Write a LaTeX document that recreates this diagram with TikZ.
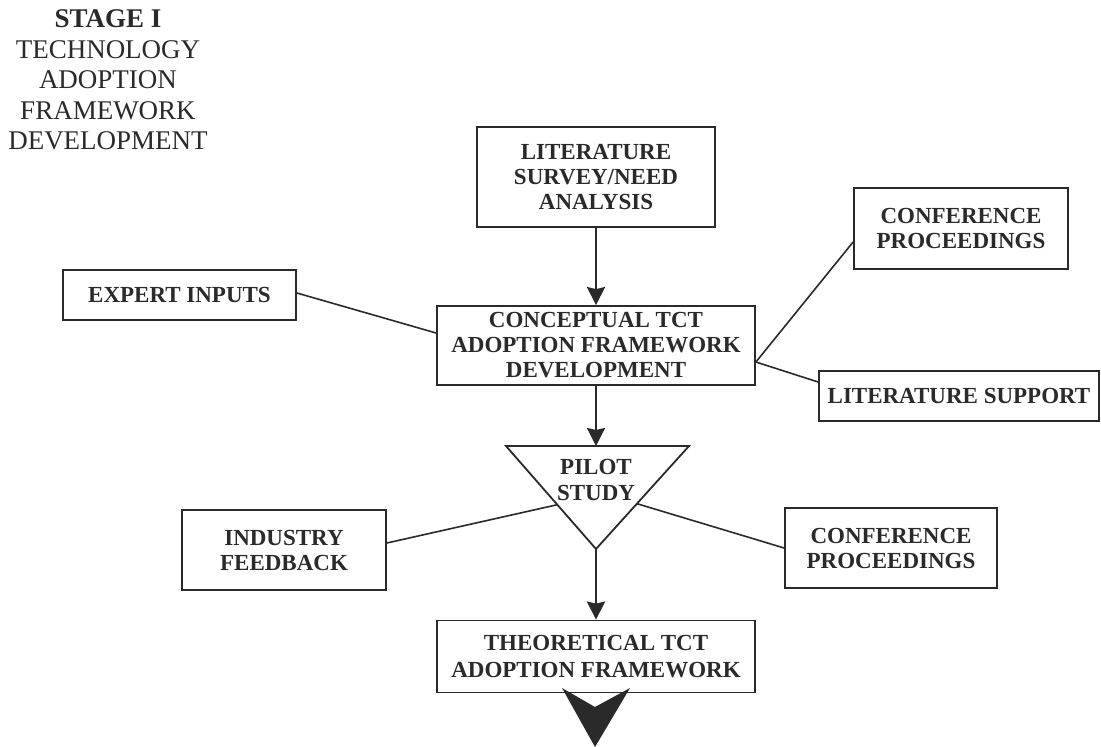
\documentclass[tikz,border=0pt]{standalone}
\usepackage{fontspec}
\setmainfont{Liberation Serif}
\usetikzlibrary{arrows.meta,calc}
\definecolor{ink}{HTML}{2A2A2A}
\tikzset{
  box/.style={draw=ink, line width=1.8pt, inner sep=0pt, align=center,
    font=\fontsize{23}{25}\selectfont\bfseries, text=ink},
  link/.style={draw=ink, line width=1.6pt},
  flow/.style={draw=ink, line width=2.4pt, -{Stealth[length=18pt,width=18pt,inset=2pt]}},
}
\begin{document}
\begin{tikzpicture}[x=1pt,y=-1pt]
\useasboundingbox[fill=white] (0,0) rectangle (1101,747);
% stage title
\node[align=center, text=ink, font=\fontsize{27}{30.5}\selectfont] (stage) at (108,80)
  {\textbf{STAGE I}\\TECHNOLOGY\\ADOPTION\\FRAMEWORK\\DEVELOPMENT};
% boxes
\node[box, minimum width=238pt, minimum height=100pt] (lit) at (596,177) {LITERATURE\\SURVEY/NEED\\ANALYSIS};
\node[box, minimum width=214pt, minimum height=81pt] (conf1) at (961,228.5) {CONFERENCE\\PROCEEDINGS};
\node[box, minimum width=233pt, minimum height=50pt] (expert) at (179.5,295) {EXPERT INPUTS};
\node[box, minimum width=318pt, minimum height=79pt] (concept) at (596,345.5) {CONCEPTUAL TCT\\ADOPTION FRAMEWORK\\DEVELOPMENT};
\node[box, minimum width=280pt, minimum height=50pt] (litsup) at (959,396) {LITERATURE SUPPORT};
\node[box, minimum width=204pt, minimum height=80pt] (industry) at (284,550) {INDUSTRY\\FEEDBACK};
\node[box, minimum width=212pt, minimum height=80pt] (conf2) at (891,548) {CONFERENCE\\PROCEEDINGS};
\node[box, minimum width=318pt, minimum height=72pt, font=\fontsize{23}{27}\selectfont\bfseries] (theory) at (596,656.5) {THEORETICAL TCT\\ADOPTION FRAMEWORK};
% pilot study triangle
\coordinate (tl) at (506,446);
\coordinate (tr) at (689,446);
\coordinate (apex) at (596,549);
\coordinate (tm) at (596,446);
\draw[draw=ink, line width=1.8pt, line join=miter] (tl) -- (tr) -- (apex) -- cycle;
\node[align=center, text=ink, font=\fontsize{23}{26}\selectfont\bfseries] (pilot) at (596,480) {PILOT\\STUDY};
\coordinate (tlpt) at ($(tl)!0.57!(apex)$);
\coordinate (trpt) at ($(tr)!0.56!(apex)$);
% flow arrows
\draw[flow] (lit.south) -- (concept.north);
\draw[flow] (concept.south) -- (tm);
\draw[flow] (apex) -- (theory.north);
% links
\draw[link] ([yshift=2pt]expert.east) -- ([yshift=12.5pt]concept.west);
\draw[link] ([yshift=-13.5pt]conf1.west) -- ([yshift=-16.5pt]concept.east);
\draw[link] ([yshift=14pt]litsup.west) -- ([yshift=-16.5pt]concept.east);
\draw[link] ([yshift=7pt]industry.east) -- (tlpt);
\draw[link] (trpt) -- (conf2.west);
% big output arrowhead
\coordinate (bl) at (562,688);
\coordinate (bn) at (595,707);
\coordinate (br) at (630,688);
\coordinate (bt) at (595,747);
\fill[ink] (bl) -- (bn) -- (br) -- (bt) -- cycle;
\end{tikzpicture}
\end{document}
